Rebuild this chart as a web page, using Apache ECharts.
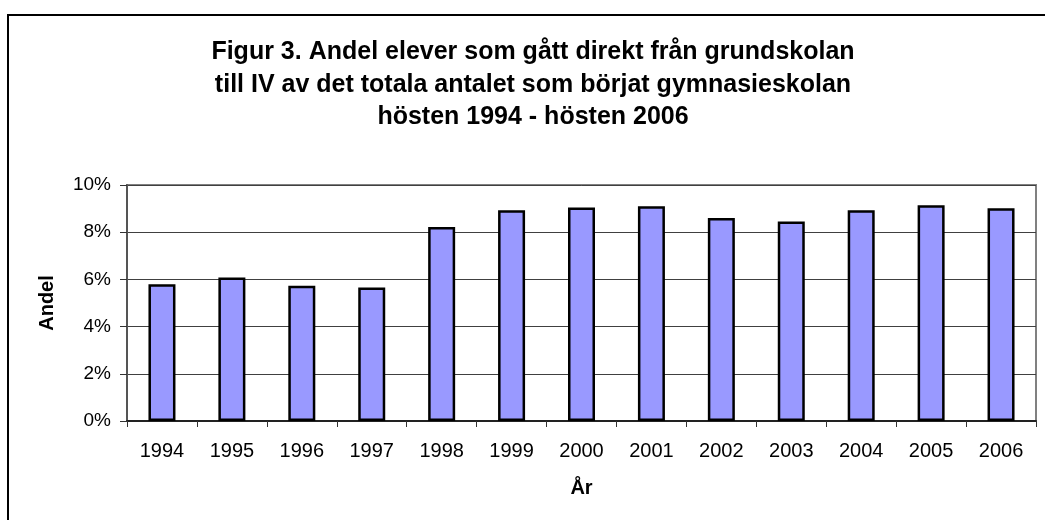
<!DOCTYPE html>
<html>
<head>
<meta charset="utf-8">
<script src="https://cdn.jsdelivr.net/npm/echarts@6/dist/echarts.min.js"></script>
<style>
  html, body { margin: 0; padding: 0; background: #fff; }
  #chart { width: 1045px; height: 520px; }
</style>
</head>
<body>
<div id="chart"></div>
<script>
const years = ['1994', '1995', '1996', '1997', '1998', '1999', '2000',
  '2001', '2002', '2003', '2004', '2005', '2006'];
// andel i procent
const andel = [5.79, 6.08, 5.73, 5.66, 8.22, 8.93, 9.05, 9.1, 8.6, 8.45, 8.93, 9.14, 9.01];
const titleLines = [
  'Figur 3. Andel elever som gått direkt från grundskolan',
  'till IV av det totala antalet som börjat gymnasieskolan',
  'hösten 1994 - hösten 2006'
];

const font = '"Liberation Sans", Arial, sans-serif';
const chart = echarts.init(document.getElementById('chart'));

chart.setOption({
  animation: false,
  textStyle: { fontFamily: font },
  graphic: [
    {
      type: 'rect',
      shape: { x: 8, y: 15, width: 1100, height: 600 },
      style: { fill: 'none', stroke: '#000', lineWidth: 2 },
      silent: true
    }
  ],
  title: {
    text: titleLines.join('\n'),
    left: 528,
    top: 31,
    textAlign: 'center',
    textStyle: {
      fontFamily: font,
      fontSize: 25,
      fontWeight: 'bold',
      color: '#000',
      lineHeight: 32.5
    }
  },
  grid: {
    left: 127,
    right: 9,
    top: 185,
    bottom: 99,
    show: true,
    borderColor: '#808080',
    borderWidth: 2
  },
  xAxis: {
    type: 'category',
    data: years,
    name: 'År',
    nameLocation: 'middle',
    nameGap: 57,
    nameTextStyle: { fontSize: 20, fontWeight: 'bold', color: '#000' },
    axisLine: { lineStyle: { color: '#222', width: 2 } },
    axisTick: { show: true, length: 6, lineStyle: { color: '#333' } },
    axisLabel: { color: '#000', fontSize: 20, margin: 20 }
  },
  yAxis: {
    type: 'value',
    min: 0,
    max: 10,
    interval: 2,
    name: 'Andel',
    nameLocation: 'middle',
    nameGap: 70,
    nameTextStyle: { fontSize: 20, fontWeight: 'bold', color: '#000' },
    axisLine: { show: true, lineStyle: { color: '#555', width: 2 } },
    axisTick: { show: true, length: 7, lineStyle: { color: '#333' } },
    axisLabel: { color: '#000', fontSize: 19, margin: 16, formatter: '{value}%' },
    splitLine: { lineStyle: { color: '#404040', width: 1 } }
  },
  series: [
    {
      type: 'bar',
      data: andel,
      barWidth: 27,
      itemStyle: {
        color: '#9999FF',
        borderColor: '#000',
        borderWidth: 2.5
      }
    }
  ]
});
</script>
</body>
</html>
